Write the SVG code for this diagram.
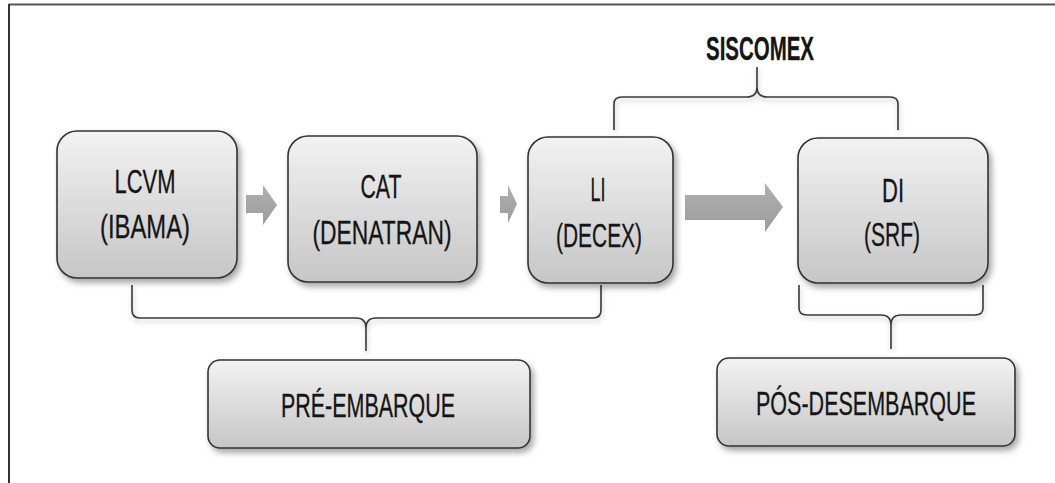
<svg xmlns="http://www.w3.org/2000/svg" width="1055" height="483" viewBox="0 0 1055 483">
<style>
.box{fill:url(#g);stroke:#333;stroke-width:1.6;filter:url(#sh)}
.t{font-family:"Liberation Sans Narrow","Liberation Sans",sans-serif;font-size:33px;fill:#151515;stroke:#151515;stroke-width:0.3;text-anchor:middle}
.b{fill:none;stroke:#3a3a3a;stroke-width:1.6;filter:url(#sh2)}
.ar{fill:url(#ga)}
</style>
<defs>
<linearGradient id="g" x1="0" y1="0" x2="0" y2="1">
<stop offset="0" stop-color="#f2f2f2"/>
<stop offset="1" stop-color="#c6c6c6"/>
</linearGradient>
<linearGradient id="ga" x1="0" y1="0" x2="0" y2="1">
<stop offset="0" stop-color="#b0b0b0"/>
<stop offset="1" stop-color="#9c9c9c"/>
</linearGradient>
<filter id="sh" x="-10%" y="-10%" width="130%" height="130%">
<feDropShadow dx="3" dy="4" stdDeviation="3" flood-color="#000" flood-opacity="0.35"/>
</filter>
<filter id="sh2" x="-10%" y="-30%" width="120%" height="180%">
<feDropShadow dx="1" dy="3" stdDeviation="2.5" flood-color="#000" flood-opacity="0.25"/>
</filter>
</defs>
<rect width="1055" height="483" fill="#fff"/>
<g id="frame">
<line x1="9" y1="4.5" x2="1055" y2="4.5" stroke="#555" stroke-width="2"/>
<line x1="9" y1="4" x2="9" y2="483" stroke="#333" stroke-width="2"/>
</g>
<g id="connectors">
<path class="ar" d="M246 195 H263 V185 L277 205 L263 225 V213 H246 Z"/>
<path class="ar" d="M500 196 H508 V185 L517 204 L508 223 V213 H500 Z"/>
<path class="ar" d="M685 195 H765 V183 L783 207 L765 232 V220 H685 Z"/>
<path class="b" d="M614 130 V104 Q614 97 622 97 H747 Q757 97 757 87 V67 M757 87 Q757 97 767 97 H890 Q898 97 898 104 V130"/>
<path class="b" d="M132 285 V310 Q132 318 140 318 H356 Q366 318 366 328 V351 M366 328 Q366 318 376 318 H593 Q601 318 601 310 V285"/>
<path class="b" d="M799 285 V308 Q799 315 807 315 H881 Q891 315 891 325 V349 M891 325 Q891 315 901 315 H975 Q983 315 983 308 V285"/>
</g>
<g id="siscomex">
<text class="t" x="760" y="60" font-size="35" font-weight="bold" textLength="108" lengthAdjust="spacingAndGlyphs">SISCOMEX</text>
</g>
<g id="lcvm">
<rect class="box" x="57" y="131" width="180" height="147" rx="20"/>
<text class="t" x="145" y="193" textLength="61" lengthAdjust="spacingAndGlyphs">LCVM</text>
<text class="t" x="145" y="238" textLength="90" lengthAdjust="spacingAndGlyphs">(IBAMA)</text>
</g>
<g id="cat">
<rect class="box" x="288" y="136" width="189" height="146" rx="20"/>
<text class="t" x="381" y="198" textLength="41" lengthAdjust="spacingAndGlyphs">CAT</text>
<text class="t" x="382" y="244" textLength="139" lengthAdjust="spacingAndGlyphs">(DENATRAN)</text>
</g>
<g id="li">
<rect class="box" x="528" y="137" width="145" height="146" rx="20"/>
<text class="t" x="598" y="201" textLength="15" lengthAdjust="spacingAndGlyphs">LI</text>
<text class="t" x="599" y="247" textLength="86" lengthAdjust="spacingAndGlyphs">(DECEX)</text>
</g>
<g id="di">
<rect class="box" x="798" y="138" width="190" height="145" rx="20"/>
<text class="t" x="893" y="202" textLength="22" lengthAdjust="spacingAndGlyphs">DI</text>
<text class="t" x="892" y="246" textLength="56" lengthAdjust="spacingAndGlyphs">(SRF)</text>
</g>
<g id="pre">
<rect class="box" x="208" y="360" width="322" height="88" rx="12"/>
<text class="t" x="368" y="417" textLength="174" lengthAdjust="spacingAndGlyphs">PRÉ-EMBARQUE</text>
</g>
<g id="pos">
<rect class="box" x="717" y="358" width="298" height="88" rx="12"/>
<text class="t" x="866" y="415" textLength="220" lengthAdjust="spacingAndGlyphs">PÓS-DESEMBARQUE</text>
</g>
</svg>
